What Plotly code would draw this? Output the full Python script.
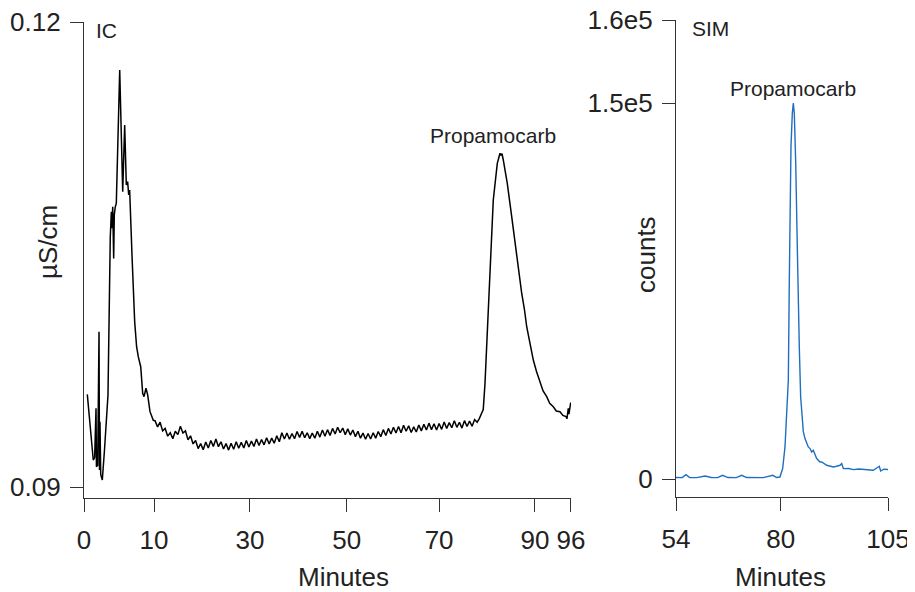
import plotly.graph_objects as go

# ---------------- data ----------------
ic_minutes = [0.65, 1.2, 1.83, 2.1, 2.37, 2.45, 2.7, 2.96, 3.05, 3.15, 3.3, 3.61,
              4.04, 4.44, 4.73, 5.18, 5.39, 5.52, 5.66, 5.85, 5.97, 6.17, 6.37,
              7.04, 7.63, 8.02, 8.34, 8.6, 8.81, 9.0, 9.13, 9.46, 9.99, 10.37,
              10.7, 11.18, 11.57, 11.83, 12.22, 12.55, 13.01, 13.34, 13.66,
              14.0, 14.5, 15.0, 15.5, 16.0, 16.5, 17.0, 17.5, 18.0, 18.5, 19.0,
              19.5, 20.0, 20.5, 21.0, 21.5, 22.0, 22.5, 23.0, 23.5, 24.0, 24.5,
              25.0, 25.5, 26.0, 26.5, 27.0, 27.5, 28.0, 28.5, 29.0, 29.5, 30.0,
              30.5, 31.0, 31.5, 32.0, 32.5, 33.0, 33.5, 34.0, 34.5, 35.0, 35.5,
              36.0, 36.5, 37.0, 37.5, 38.0, 38.5, 39.0, 39.5, 40.0, 40.5, 41.0,
              41.5, 42.0, 42.5, 43.0, 43.5, 44.0, 44.5, 45.0, 45.5, 46.0, 46.5,
              47.0, 47.5, 48.0, 48.5, 49.0, 49.5, 50.0, 50.5, 51.0, 51.5, 52.0,
              52.5, 53.0, 53.5, 54.0, 54.5, 55.0, 55.5, 56.0, 56.5, 57.0, 57.5,
              58.0, 58.5, 59.0, 59.5, 60.0, 60.5, 61.0, 61.5, 62.0, 62.5, 63.0,
              63.5, 64.0, 64.5, 65.0, 65.5, 66.0, 66.5, 67.0, 67.5, 68.0, 68.5,
              69.0, 69.5, 70.0, 70.5, 71.0, 71.5, 72.0, 72.5, 73.0, 73.5, 74.0,
              74.5, 75.0, 75.5, 76.0, 76.5, 77.0, 77.5, 77.9, 78.4, 78.7, 79.05,
              79.5, 80.03, 80.68, 81.47, 82.0, 82.2, 82.4, 82.65, 83.44, 84.31,
              85.29, 85.8, 86.28, 86.8, 87.27, 87.9, 88.57, 89.2, 89.89, 90.5,
              91.21, 91.8, 92.51, 93.1, 93.83, 94.4, 95.01, 95.2, 95.47, 95.6,
              95.94, 96.0]
ic_conductivity = [0.09598, 0.0939, 0.09174, 0.0919, 0.09508, 0.09131, 0.0914,
                   0.10002, 0.0911, 0.09421, 0.0908, 0.09045,
                   0.09239, 0.09432, 0.09594, 0.10615, 0.10776, 0.10669, 0.10808,
                   0.10475, 0.10755, 0.10808, 0.1083,
                   0.1169, 0.10905, 0.11335, 0.10948, 0.1097, 0.10884, 0.10916,
                   0.10819, 0.10497, 0.10066, 0.09905,
                   0.09841, 0.09776, 0.09605, 0.09583, 0.09637, 0.09594, 0.09486,
                   0.09454, 0.0943,
                   0.09428, 0.09388, 0.09418, 0.09362, 0.09378, 0.09328, 0.0935,
                   0.09312, 0.0936, 0.09338, 0.09392,
                   0.09348, 0.09362, 0.09305, 0.0933, 0.09278, 0.093, 0.09248,
                   0.0928, 0.0924, 0.0929, 0.09252,
                   0.093, 0.09262, 0.0931, 0.0926, 0.09292, 0.09245, 0.0928,
                   0.09238, 0.09282, 0.09244, 0.09292,
                   0.0925, 0.09288, 0.09252, 0.093, 0.09258, 0.09296, 0.09262,
                   0.0931, 0.09268, 0.09306, 0.09272,
                   0.09318, 0.09278, 0.09315, 0.09282, 0.0933, 0.09292, 0.0935,
                   0.0931, 0.09348, 0.09308, 0.09345,
                   0.09312, 0.09358, 0.0932, 0.0936, 0.09318, 0.0935, 0.09312,
                   0.09348, 0.09315, 0.0936, 0.09322,
                   0.09368, 0.09328, 0.0937, 0.09332, 0.09378, 0.09342, 0.09385,
                   0.0935, 0.0938, 0.09338, 0.09375,
                   0.09335, 0.09368, 0.09325, 0.0936, 0.09315, 0.09348, 0.09308,
                   0.09345, 0.0931, 0.0935, 0.09315,
                   0.09358, 0.09325, 0.0937, 0.09332, 0.09378, 0.09342, 0.09385,
                   0.09348, 0.0939, 0.0935, 0.09398,
                   0.0936, 0.09395, 0.09352, 0.09388, 0.09355, 0.094, 0.09362,
                   0.09405, 0.09368, 0.09412, 0.0937,
                   0.09408, 0.09368, 0.0941, 0.09372, 0.0942, 0.09378, 0.09415,
                   0.09382, 0.09428, 0.09385, 0.09418,
                   0.0938, 0.09428, 0.0939, 0.09425, 0.09392, 0.09435, 0.09418,
                   0.0944, 0.09475, 0.095, 0.09669,
                   0.09992, 0.10421, 0.10852, 0.11088, 0.11153, 0.1114, 0.1115,
                   0.1111, 0.10959, 0.10744,
                   0.10486, 0.10365, 0.1025, 0.1015, 0.10034, 0.0993, 0.09819,
                   0.09745, 0.09675, 0.0962,
                   0.09583, 0.0954, 0.09518, 0.0949, 0.09486, 0.09462, 0.09454,
                   0.0944, 0.09508, 0.0947,
                   0.09545, 0.09525]

sim_minutes = [54.0, 55.5, 56.4, 57.3, 59.0, 61.0, 62.5, 64.0, 65.2, 66.5, 68.5,
               69.8, 71.0, 73.0, 75.0, 77.3, 78.2, 79.0, 79.66, 80.22, 80.63,
               81.02, 81.26, 81.42, 81.66, 81.98, 82.22, 82.46, 82.8, 83.18,
               83.42, 83.66, 83.99, 84.47, 84.63, 85.03, 85.44, 85.82, 86.24,
               86.64, 87.03, 87.4, 87.84, 88.64, 89.05, 90.25, 91.85, 92.66,
               93.45, 93.86, 94.26, 95.5, 96.66, 98.0, 99.06, 100.67, 101.46,
               102.9, 103.24, 104.0, 104.69, 105.0]
sim_counts = [700, 650, 1875, 700, 650, 1330, 700, 680, 1600, 700, 660,
              1600, 700, 680, 650, 1600, 700, 900, 4270, 12900, 26200,
              39500, 79400, 106000, 132600, 145900, 150000, 145900, 126000, 92700,
              66100, 52800, 32800, 19550, 19000, 16240, 14240, 12900, 12250,
              10900, 11570, 9600, 8250, 6900, 6900, 5590, 4900, 5190,
              5590, 6260, 4270, 4300, 3870, 4100, 3870, 3590, 3590,
              5190, 3310, 4000, 3870, 3900]

ic_tick_labels = ["0", "10", "30", "50", "70", "90", "96"]
ic_y_tick_labels = ["0.09", "0.12"]
sim_tick_labels = ["54", "80", "105"]
sim_y_tick_labels = ["0", "1.5e5", "1.6e5"]

# ---------------- layout helpers ----------------
# the page body has an 8px margin, so the figure starts at (8, 8) in the window
OFF = 8
W, H = 915 - OFF, 592 - OFF
def px(x):
    return (x - OFF) / W
def py(y):
    return 1 - (y - OFF) / H

FONT = "Liberation Sans, Arial, sans-serif"
AXC = "#333333"
TXT = "#222222"

fig = go.Figure()
fig.add_trace(go.Scatter(x=ic_minutes, y=ic_conductivity, mode="lines",
                         line=dict(color="#000000", width=1.5),
                         xaxis="x", yaxis="y", showlegend=False, hoverinfo="skip"))
fig.add_trace(go.Scatter(x=sim_minutes, y=sim_counts, mode="lines",
                         line=dict(color="#1f6fc0", width=1.4),
                         xaxis="x2", yaxis="y2", showlegend=False, hoverinfo="skip"))

axis_common = dict(showline=True, linecolor=AXC, linewidth=1.3, ticks="outside",
                   ticklen=13, tickwidth=1.3, tickcolor=AXC, showgrid=False,
                   zeroline=False, automargin=False, ticklabeloverflow="allow",
                   tickfont=dict(family=FONT, size=26, color=TXT))

fig.update_layout(
    width=W, height=H, margin=dict(l=0, r=0, t=0, b=0, autoexpand=False),
    paper_bgcolor="white", plot_bgcolor="white",
    xaxis=dict(domain=[px(84), px(571)], range=[0, 96], anchor="y",
               tickmode="array", tickvals=[0, 13.8, 32.7, 51.8, 70.0, 88.9, 95.999],
               ticktext=ic_tick_labels, ticklabelstandoff=6, **axis_common),
    yaxis=dict(domain=[py(498), py(22)], range=[0.08929, 0.12], anchor="x",
               tickmode="array", tickvals=[0.09, 0.119995], ticktext=ic_y_tick_labels,
               ticklabelstandoff=4, **axis_common),
    xaxis2=dict(domain=[px(676), px(888)], range=[54, 105], anchor="y2",
                tickmode="array", tickvals=[54.001, 79.2, 104.999],
                ticktext=sim_tick_labels, ticklabelstandoff=6, **axis_common),
    yaxis2=dict(domain=[py(497), py(20)], range=[-7060, 183100], anchor="x2",
                tickmode="array", tickvals=[0, 150000, 183050],
                ticktext=sim_y_tick_labels, ticklabelstandoff=4, **axis_common),
)

def ann(text, x, y, size, xanchor="center", angle=0):
    fig.add_annotation(text=text, x=px(x), y=py(y), xref="paper", yref="paper",
                       showarrow=False, xanchor=xanchor, yanchor="middle",
                       textangle=angle,
                       font=dict(family=FONT, size=size, color=TXT))

ann("Minutes", 343.5, 577, 26)
ann("Minutes", 780, 577, 26)
ann("µS/cm", 48, 242, 26, angle=-90)
ann("counts", 646, 255, 26, angle=-90)
ann("IC", 94, 31, 21, xanchor="left")
ann("SIM", 690, 28, 21, xanchor="left")
ann("Propamocarb", 493, 135, 21)
ann("Propamocarb", 792.5, 88, 21)

fig.write_html("out.html")
